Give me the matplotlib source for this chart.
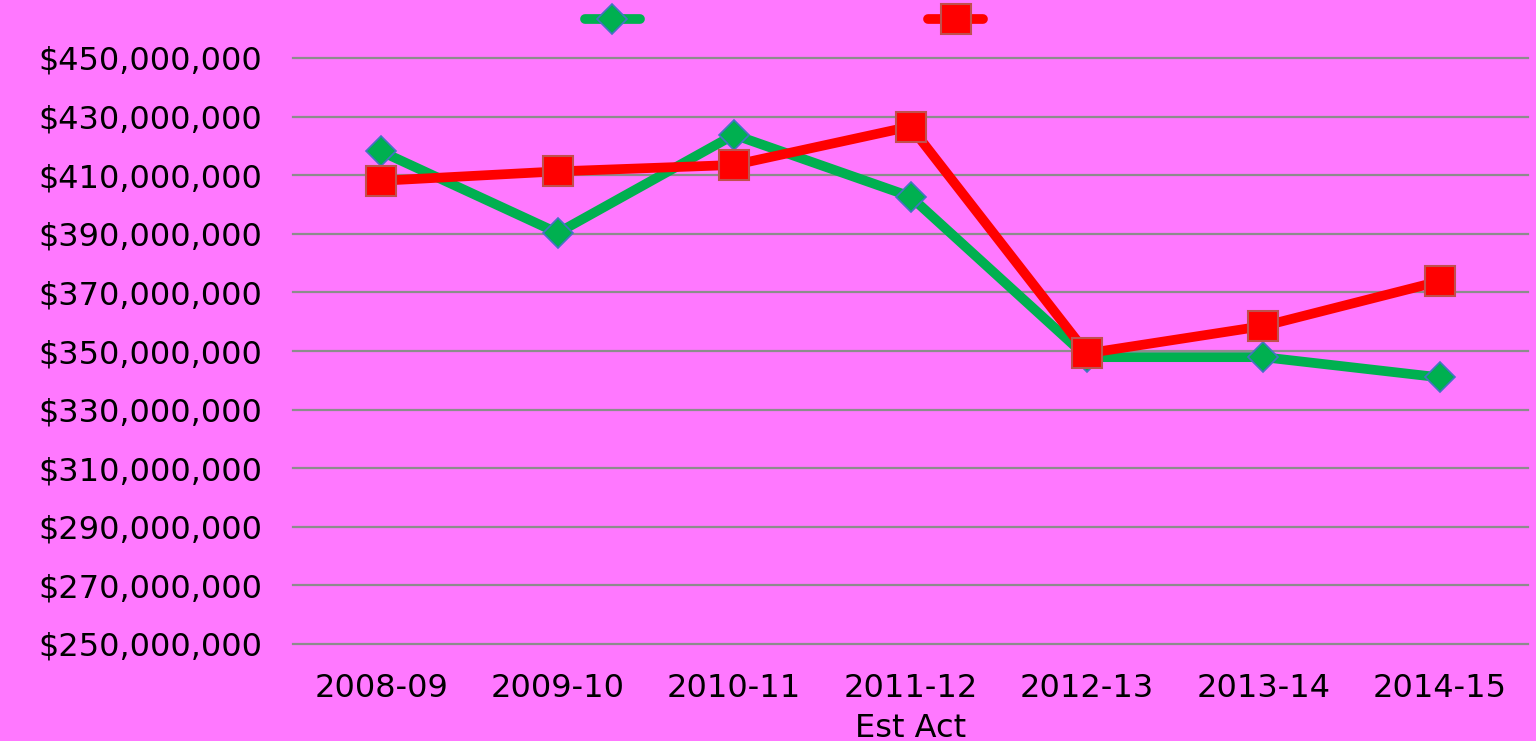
import numpy as np
import matplotlib
matplotlib.use('Agg')
import matplotlib.pyplot as plt
from matplotlib.ticker import FuncFormatter
from matplotlib.lines import Line2D

# Data
years = ['2008-09', '2009-10', '2010-11', '2011-12\nEst Act', '2012-13', '2013-14', '2014-15']
green_values = [418.1e6, 390.3e6, 423.8e6, 402.7e6, 347.9e6, 347.9e6, 341.0e6]
red_values = [408.1e6, 411.3e6, 413.5e6, 426.6e6, 349.2e6, 358.5e6, 373.8e6]

BG = '#FF78FF'
GREEN = '#00B050'
RED = '#FF0000'

plt.rcParams['font.family'] = ['DejaVu Sans']

fig = plt.figure(figsize=(15.36, 7.41), dpi=100, facecolor=BG)
ax = fig.add_axes([293 / 1536, 1 - 644 / 741, (1528 - 293) / 1536, (644 - 58) / 741])
ax.set_facecolor(BG)

x = np.arange(len(years))
ax.plot(x, green_values, color=GREEN, lw=7, marker='D', markersize=15.5,
        markerfacecolor=GREEN, markeredgecolor='#4472C4', markeredgewidth=1.2,
        solid_capstyle='round', zorder=3)
ax.plot(x, red_values, color=RED, lw=7, marker='s', markersize=22,
        markerfacecolor=RED, markeredgecolor='#C0504D', markeredgewidth=1.5,
        solid_capstyle='round', zorder=4)

ax.set_xlim(-0.5, len(years) - 0.5)
ax.set_ylim(250e6, 450e6)
ax.set_yticks(np.arange(250e6, 450e6 + 1, 20e6))
ax.yaxis.set_major_formatter(FuncFormatter(lambda v, p: f'${v:,.0f}'))
ax.set_xticks(x)
ax.set_xticklabels(years, linespacing=1.35)

ax.grid(axis='y', color='#8C8C8C', lw=1.6)
for gl in ax.get_ygridlines():
    gl.set_clip_on(False)
ax.set_axisbelow(True)
for s in ax.spines.values():
    s.set_visible(False)
ax.tick_params(axis='both', length=0, labelsize=23, colors='black')
ax.tick_params(axis='y', pad=22)
ax.tick_params(axis='x', pad=21)

handles = [
    Line2D([], [], color=GREEN, lw=7, marker='D', markersize=15.5,
           markeredgecolor='#4472C4', markeredgewidth=1.2, solid_capstyle='round'),
    Line2D([], [], color=RED, lw=7, marker='s', markersize=22,
           markeredgecolor='#C0504D', markeredgewidth=1.5, solid_capstyle='round'),
]
fig.legend(handles, ['', ''], loc='center', bbox_to_anchor=(784 / 1536, 1 - 21 / 741),
           ncol=2, frameon=False, fontsize=19, handlelength=2.1, handletextpad=0,
           columnspacing=10.9, borderpad=0)

fig.savefig('out.png', dpi=100, facecolor=BG)
